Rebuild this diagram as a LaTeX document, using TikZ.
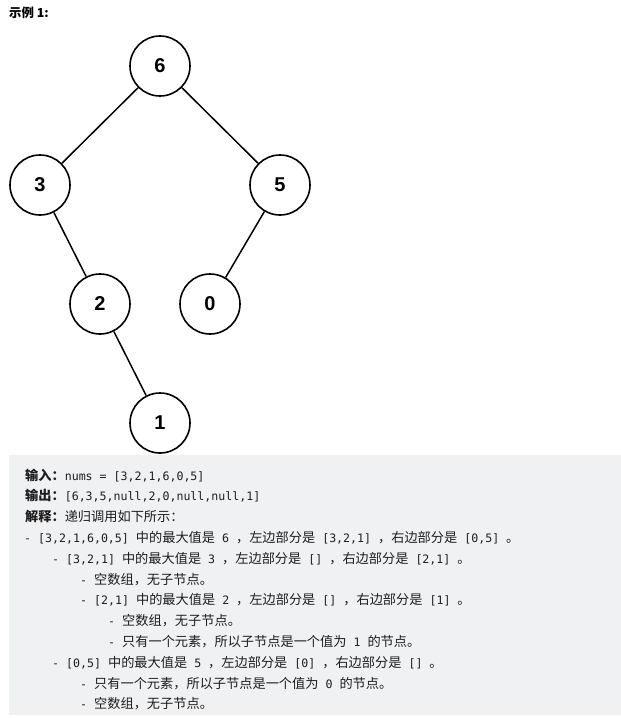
\documentclass[tikz,border=0pt]{standalone}
\usepackage{fontspec}
\setmainfont{Noto Sans CJK SC}
\setmonofont{DejaVu Sans Mono}
\newfontfamily\digitfont{Liberation Sans}
\usepackage{tikz}
\usetikzlibrary{positioning}
\definecolor{boxgray}{RGB}{240,241,243}
\definecolor{textdark}{RGB}{30,30,30}

% inline code in the explanation box
\newcommand\codetxt[1]{{\ttfamily\fontsize{11.6}{15}\selectfont #1}}

\tikzset{
    treenode/.style={circle, draw=black, line width=1.6pt, minimum size=60pt, inner sep=0pt,
        font=\digitfont\bfseries\fontsize{20}{20}\selectfont},
    treeedge/.style={line width=1.5pt},
    explain/.style={anchor=base west, inner sep=0pt, text=textdark,
        font=\fontsize{13.2}{15}\selectfont}
}

\begin{document}
\begin{tikzpicture}[x=1pt, y=-1pt]
    \useasboundingbox (0,0) rectangle (621,718);

    % Title
    \node(title)[explain, text=black, font=\bfseries\fontsize{12.4}{14}\selectfont] at (9,17) {示例 1:};

    % Tree nodes
    \node(n6)[treenode] at (160,66) {6};
    \node(n3)[treenode] at (40,185) {3};
    \node(n5)[treenode] at (280,185) {5};
    \node(n2)[treenode] at (100,304) {2};
    \node(n0)[treenode] at (210,304) {0};
    \node(n1)[treenode] at (160,423) {1};

    % Tree edges
    \draw[treeedge] (n6) -- (n3);
    \draw[treeedge] (n6) -- (n5);
    \draw[treeedge] (n3) -- (n2);
    \draw[treeedge] (n5) -- (n0);
    \draw[treeedge] (n2) -- (n1);

    % Explanation box
    \fill[boxgray] (9,455) rectangle (621,715);

    \node(label-in)[explain] at (25,480) {\textbf{输入：}\codetxt{nums = [3,2,1,6,0,5]}};
    \node(label-out)[explain] at (25,500.8) {\textbf{输出：}\codetxt{[6,3,5,null,2,0,null,null,1]}};
    \node(label-why)[explain] at (25,521.6) {\textbf{解释：}递归调用如下所示：};

    % Recursion steps, one per line (level sets the indent)
    \foreach \lvl/\txt [count=\i from 4] in {
        0/{\codetxt{- [3,2,1,6,0,5] }中的最大值是\codetxt{ 6 }，左边部分是\codetxt{ [3,2,1] }，右边部分是\codetxt{ [0,5] }。},
        1/{\codetxt{- [3,2,1] }中的最大值是\codetxt{ 3 }，左边部分是\codetxt{ [] }，右边部分是\codetxt{ [2,1] }。},
        2/{\codetxt{- }空数组，无子节点。},
        2/{\codetxt{- [2,1] }中的最大值是\codetxt{ 2 }，左边部分是\codetxt{ [] }，右边部分是\codetxt{ [1] }。},
        3/{\codetxt{- }空数组，无子节点。},
        3/{\codetxt{- }只有一个元素，所以子节点是一个值为\codetxt{ 1 }的节点。},
        1/{\codetxt{- [0,5] }中的最大值是\codetxt{ 5 }，左边部分是\codetxt{ [0] }，右边部分是\codetxt{ [] }。},
        2/{\codetxt{- }只有一个元素，所以子节点是一个值为\codetxt{ 0 }的节点。},
        2/{\codetxt{- }空数组，无子节点。}} {
        \node(line-\i)[explain] at (24+28*\lvl, 459.2+20.8*\i) {\txt};
    }
\end{tikzpicture}
\end{document}
